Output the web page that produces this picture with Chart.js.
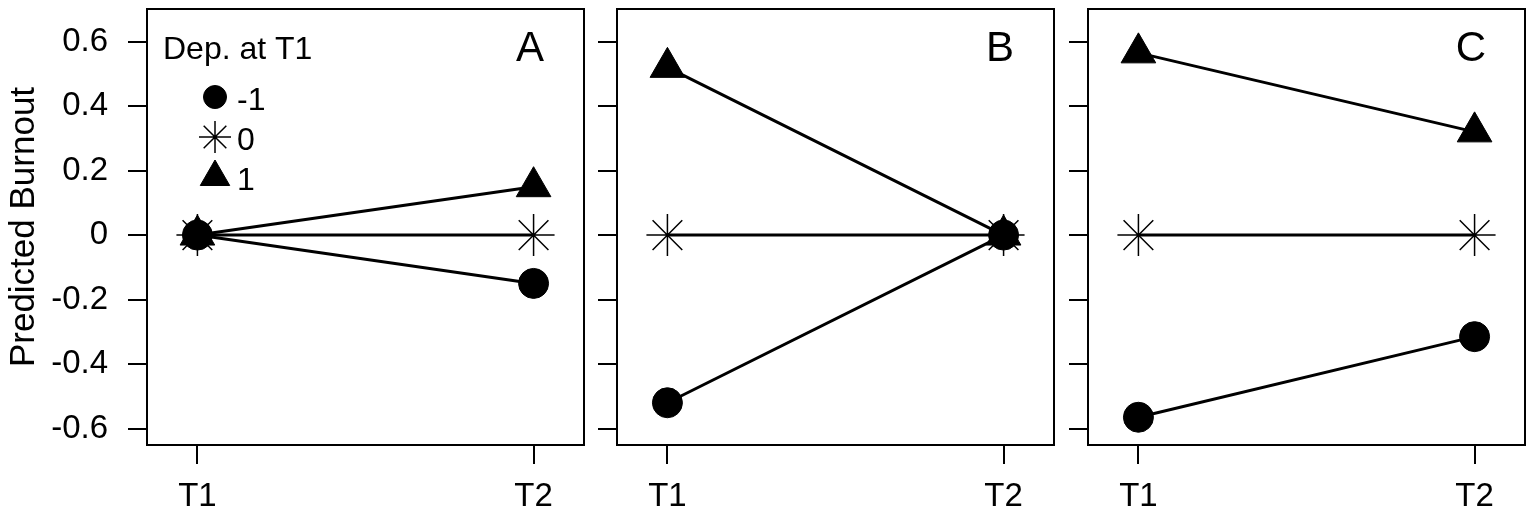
<!DOCTYPE html>
<html>
<head>
<meta charset="utf-8">
<script src="https://cdn.jsdelivr.net/npm/chart.js@4.4.1/dist/chart.umd.min.js"></script>
<style>
    html, body { margin: 0; padding: 0; background: #fff; }
    #wrap { position: relative; width: 1535px; height: 519px; overflow: hidden; }
    .panel { position: absolute; top: 0; height: 519px; }
</style>
</head>
<body>
<div id="wrap">
    <div class="panel" style="left:0px;width:600px"><canvas id="panelA"></canvas></div>
    <div class="panel" style="left:470px;width:600px"><canvas id="panelB"></canvas></div>
    <div class="panel" style="left:941px;width:594px"><canvas id="panelC"></canvas></div>
</div>
<script>
// Datos del gráfico
const timePoints = [1, 2];
const timeLabels = ['T1', 'T2'];
const depLevels = ['-1', '0', '1'];
const legendTitle = 'Dep. at T1';
const yAxisTitle = 'Predicted Burnout';
const yTicks = [-0.6, -0.4, -0.2, 0, 0.2, 0.4, 0.6];
const panelLetters = ['A', 'B', 'C'];

// Burnout predicho por nivel de depresión en T1 (-1, 0, 1)
const panelA_low = [0, -0.15];
const panelA_mid = [0, 0];
const panelA_high = [0, 0.15];

const panelB_low = [-0.52, 0];
const panelB_mid = [0, 0];
const panelB_high = [0.52, 0];

const panelC_low = [-0.565, -0.315];
const panelC_mid = [0, 0];
const panelC_high = [0.565, 0.32];

const FONT = "'Liberation Sans', Arial, Helvetica, sans-serif";
const BLACK = '#000';

const MARKERS = [
    { pointStyle: 'circle', radius: 15, legendRadius: 11.5, filled: true },
    { pointStyle: 'star', radius: 21, legendRadius: 16, filled: false },
    { pointStyle: 'triangle', radius: 20, legendRadius: 17, filled: true }
];

// Marco completo alrededor del área del gráfico (estilo R)
const boxPlugin = {
    id: 'box',
    beforeDatasetsDraw: (chart) => {
        const { ctx, chartArea } = chart;
        ctx.save();
        ctx.strokeStyle = BLACK;
        ctx.lineWidth = 2;
        ctx.strokeRect(chartArea.left, chartArea.top, chartArea.right - chartArea.left, chartArea.bottom - chartArea.top);
        ctx.restore();
    }
};

// Letra del panel y leyenda (solo en el panel A)
const annotationPlugin = {
    id: 'annotations',
    afterDraw: (chart, args, opts) => {
        const { ctx, chartArea } = chart;
        ctx.save();
        ctx.fillStyle = BLACK;
        ctx.strokeStyle = BLACK;
        ctx.font = '42px ' + FONT;
        ctx.textAlign = 'center';
        ctx.textBaseline = 'middle';
        ctx.fillText(opts.letter, chartArea.right - 54, chartArea.top + 40);

        if (opts.legend) {
            const x0 = chartArea.left + 16;
            ctx.font = '32px ' + FONT;
            ctx.textAlign = 'left';
            ctx.textBaseline = 'alphabetic';
            ctx.fillText(legendTitle, x0, chartArea.top + 50);

            depLevels.forEach((label, i) => {
                const m = MARKERS[i];
                const y = chartArea.top + 88 + i * 40;
                ctx.lineWidth = m.filled ? 1 : 1.5;
                Chart.helpers.drawPoint(ctx, {
                    pointStyle: m.pointStyle,
                    radius: m.legendRadius,
                    rotation: 0,
                    borderWidth: ctx.lineWidth
                }, x0 + 52, y);
                ctx.textBaseline = 'middle';
                ctx.fillText(label, x0 + 74, y + 4);
            });
        }
        ctx.restore();
    }
};

// Anula el relleno automático que Chart.js reserva para las etiquetas
const noScalePadding = (scale) => {
    scale.paddingTop = 0;
    scale.paddingBottom = 0;
    scale.paddingLeft = 0;
    scale.paddingRight = 0;
};

const PanelUtils = {
    create: (canvasId, series, letter, isFirst) => {
        const canvas = document.getElementById(canvasId);
        const width = canvas.parentNode.clientWidth;

        const datasets = series.map((values, i) => {
            const m = MARKERS[i];
            return {
                label: depLevels[i],
                data: values.map((v, k) => ({ x: timePoints[k], y: v })),
                borderColor: BLACK,
                borderWidth: 3,
                pointStyle: m.pointStyle,
                pointRadius: m.radius,
                pointHoverRadius: m.radius,
                pointBackgroundColor: BLACK,
                pointBorderColor: BLACK,
                pointBorderWidth: m.filled ? 1 : 1.5,
                clip: false
            };
        });

        const config = {
            type: 'line',
            data: { datasets: datasets },
            options: {
                responsive: true,
                maintainAspectRatio: false,
                animation: false,
                layout: {
                    autoPadding: false, // los marcadores no deben encoger el área
                    padding: { top: 9, right: width - 584, left: 0, bottom: 0 }
                },
                plugins: {
                    legend: { display: false },
                    tooltip: { enabled: false },
                    annotations: { letter: letter, legend: isFirst }
                },
                scales: {
                    x: {
                        type: 'linear',
                        min: 0.85,
                        max: 2.15,
                        afterBuildTicks: (scale) => { scale.ticks = timePoints.map(v => ({ value: v })); },
                        afterFit: (scale) => { scale.height = 74; noScalePadding(scale); },
                        ticks: {
                            autoSkip: false,
                            maxRotation: 0,
                            padding: 13,
                            color: BLACK,
                            font: { family: FONT, size: 33 },
                            callback: (value) => timeLabels[timePoints.indexOf(value)]
                        },
                        grid: { drawOnChartArea: false, drawTicks: true, tickLength: 19, color: BLACK, lineWidth: 2 },
                        border: { display: false }
                    },
                    y: {
                        min: -0.651,
                        max: 0.701,
                        afterBuildTicks: (scale) => { scale.ticks = yTicks.map(v => ({ value: v })); },
                        afterFit: (scale) => { scale.width = 147; noScalePadding(scale); },
                        ticks: {
                            display: isFirst,
                            autoSkip: false,
                            padding: 20,
                            color: BLACK,
                            font: { family: FONT, size: 33 },
                            callback: (value) => String(value)
                        },
                        title: {
                            display: isFirst,
                            text: yAxisTitle,
                            color: BLACK,
                            font: { family: FONT, size: 35 },
                            padding: { top: 3, bottom: 3 }
                        },
                        grid: { drawOnChartArea: false, drawTicks: true, tickLength: 19, color: BLACK, lineWidth: 2 },
                        border: { display: false }
                    }
                }
            },
            plugins: [boxPlugin, annotationPlugin]
        };

        return new Chart(canvas, config);
    }
};

PanelUtils.create('panelA', [panelA_low, panelA_mid, panelA_high], panelLetters[0], true);
PanelUtils.create('panelB', [panelB_low, panelB_mid, panelB_high], panelLetters[1], false);
PanelUtils.create('panelC', [panelC_low, panelC_mid, panelC_high], panelLetters[2], false);
</script>
</body>
</html>
